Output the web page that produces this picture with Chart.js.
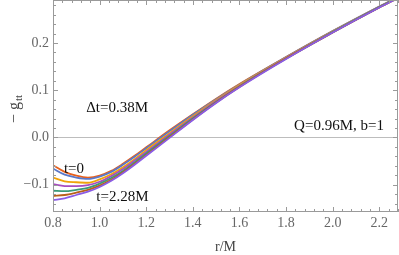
<!DOCTYPE html>
<html><head><meta charset="utf-8">
<script src="https://cdn.jsdelivr.net/npm/chart.js@4/dist/chart.umd.min.js"></script>
<style>html,body{margin:0;padding:0;background:#fff;}#wrap{width:399px;height:255px;}</style>
</head><body><div id="wrap"><canvas id="c" width="399" height="255"></canvas></div>
<script>
// radii r/M
const radii = [0.80,0.85,0.90,0.95,1.00,1.05,1.10,1.15,1.20,1.30,1.40,1.50,1.60,1.80,2.00,2.20,2.28];
const seriesNames = ['t=0','t=0.38M','t=0.76M','t=1.14M','t=1.52M','t=1.90M','t=2.28M'];
const gT0   = [-0.059,-0.073,-0.081,-0.085,-0.081,-0.071,-0.056,-0.039,-0.021, 0.015,0.049,0.082,0.113,0.170,0.225,0.277,0.297];
const gT038 = [-0.066,-0.079,-0.085,-0.088,-0.083,-0.073,-0.058,-0.041,-0.023, 0.013,0.048,0.081,0.112,0.170,0.225,0.277,0.297];
const gT076 = [-0.085,-0.093,-0.095,-0.096,-0.089,-0.078,-0.063,-0.046,-0.027, 0.009,0.045,0.079,0.111,0.169,0.224,0.276,0.296];
const gT114 = [-0.099,-0.103,-0.103,-0.101,-0.094,-0.082,-0.067,-0.049,-0.031, 0.006,0.042,0.077,0.109,0.168,0.223,0.276,0.296];
const gT152 = [-0.113,-0.114,-0.111,-0.107,-0.098,-0.086,-0.071,-0.053,-0.034, 0.003,0.040,0.075,0.108,0.167,0.223,0.276,0.296];
const gT190 = [-0.124,-0.122,-0.117,-0.111,-0.102,-0.090,-0.074,-0.056,-0.037, 0.001,0.038,0.074,0.107,0.167,0.222,0.275,0.295];
const gT228 = [-0.133,-0.129,-0.122,-0.115,-0.105,-0.092,-0.076,-0.058,-0.039,-0.001,0.037,0.073,0.106,0.166,0.222,0.275,0.295];
const xTicks = [0.8,1.0,1.2,1.4,1.6,1.8,2.0,2.2];
const yTicks = [-0.1,0.0,0.1,0.2];

const allSeries = [gT0,gT038,gT076,gT114,gT152,gT190,gT228];
const colors = ['#E8601C','#5B78C8','#F0A30A','#A84CC0','#3A9A78','#B8601A','#8A5CE6'];
const annotations = [
  {text:'\u0394t=0.38M', r:1.075, v:0.054},
  {text:'Q=0.96M, b=1', r:2.027, v:0.015},
  {text:'t=0', r:0.890, v:-0.0755},
  {text:'t=2.28M', r:1.098, v:-0.135}
];
const fmt = v => (v < 0 ? '\u2212' : '') + Math.abs(v).toFixed(1);
const serif = "'Liberation Serif', 'Times New Roman', 'DejaVu Serif', serif";

const decor = {
  id:'decor',
  afterDatasetsDraw(chart){
    const {ctx, chartArea:a, scales:{x,y}} = chart;
    ctx.save();
    ctx.strokeStyle = '#9a9a9a'; ctx.lineWidth = 1;
    ctx.strokeRect(a.left+0.5, a.top+0.5, a.right-a.left-1, a.bottom-a.top-1);
    ctx.beginPath();
    for (let k = 0; k <= 37; k++) {
      const v = 0.8 + k*0.04; if (v > 2.2801) break;
      const px = Math.round(x.getPixelForValue(v)) + 0.5;
      const L = (k % 5 === 0) ? 5 : 3;
      ctx.moveTo(px, a.bottom); ctx.lineTo(px, a.bottom - L);
      ctx.moveTo(px, a.top); ctx.lineTo(px, a.top + L);
    }
    for (let k = -7; k <= 14; k++) {
      const v = k*0.02; if (v < -0.158 || v > 0.291) continue;
      const py = Math.round(y.getPixelForValue(v)) + 0.5;
      const L = (k % 5 === 0) ? 5 : 3;
      ctx.moveTo(a.left, py); ctx.lineTo(a.left + L, py);
      ctx.moveTo(a.right, py); ctx.lineTo(a.right - L, py);
    }
    ctx.stroke();
    // annotations
    ctx.fillStyle = '#111';
    ctx.font = '15px ' + serif;
    ctx.textAlign = 'center'; ctx.textBaseline = 'alphabetic';
    annotations.forEach(an => ctx.fillText(an.text, x.getPixelForValue(an.r), y.getPixelForValue(an.v)));
    // y title: −g_tt
    ctx.translate(19, 109);
    ctx.rotate(-Math.PI/2);
    ctx.fillStyle = '#444';
    ctx.textAlign = 'left';
    ctx.font = '16px ' + serif;
    const w1 = ctx.measureText('\u2212 g').width;
    ctx.font = '11px ' + serif;
    const w2 = ctx.measureText('tt').width;
    const start = -(w1 + w2 + 1)/2;
    ctx.font = '16px ' + serif;
    ctx.fillText('\u2212 g', start, 0);
    ctx.font = '11px ' + serif;
    ctx.fillText('tt', start + w1 + 1, 3);
    ctx.restore();
  }
};

new Chart(document.getElementById('c'), {
  type:'line',
  data:{
    datasets: allSeries.map((s,i) => ({
      label: seriesNames[i],
      data: radii.map((r,j) => ({x:r, y:s[j]})),
      borderColor: colors[i], borderWidth: 1.8,
      pointRadius: 0, fill:false,
      cubicInterpolationMode:'monotone',
      order: allSeries.length - 1 - i,
      clip: 0
    }))
  },
  options:{
    responsive:false, devicePixelRatio:1, animation:false,
    layout:{padding:{left:0,right:1,top:0,bottom:0}},
    plugins:{legend:{display:false}, tooltip:{enabled:false}},
    scales:{
      x:{type:'linear', min:0.8, max:2.28,
        afterBuildTicks: s => { s.ticks = xTicks.map(v => ({value:v})); },
        afterFit: s => { s.height = 43; s.paddingLeft = 0; s.paddingRight = 0; },
        grid:{display:false, drawTicks:false}, border:{display:false},
        ticks:{color:'#666', font:{family:serif, size:14}, padding:3, maxRotation:0, autoSkip:false, callback: v => fmt(v)},
        title:{display:true, text:'r/M', color:'#444', font:{family:serif, size:14, lineHeight:1}, padding:{top:0,bottom:1}}
      },
      y:{type:'linear', min:-0.158, max:0.291,
        afterBuildTicks: s => { s.ticks = yTicks.map(v => ({value:v})); },
        afterFit: s => { s.width = 53; s.paddingTop = 0; s.paddingBottom = 0; },
        grid:{drawTicks:false, lineWidth:1, color: c => (c.tick && c.tick.value === 0) ? '#bdbdbd' : 'rgba(0,0,0,0)'},
        border:{display:false},
        ticks:{color:'#666', font:{family:serif, size:14}, padding:4, autoSkip:false, callback: v => fmt(v)}
      }
    }
  },
  plugins:[decor]
});
</script></body></html>
